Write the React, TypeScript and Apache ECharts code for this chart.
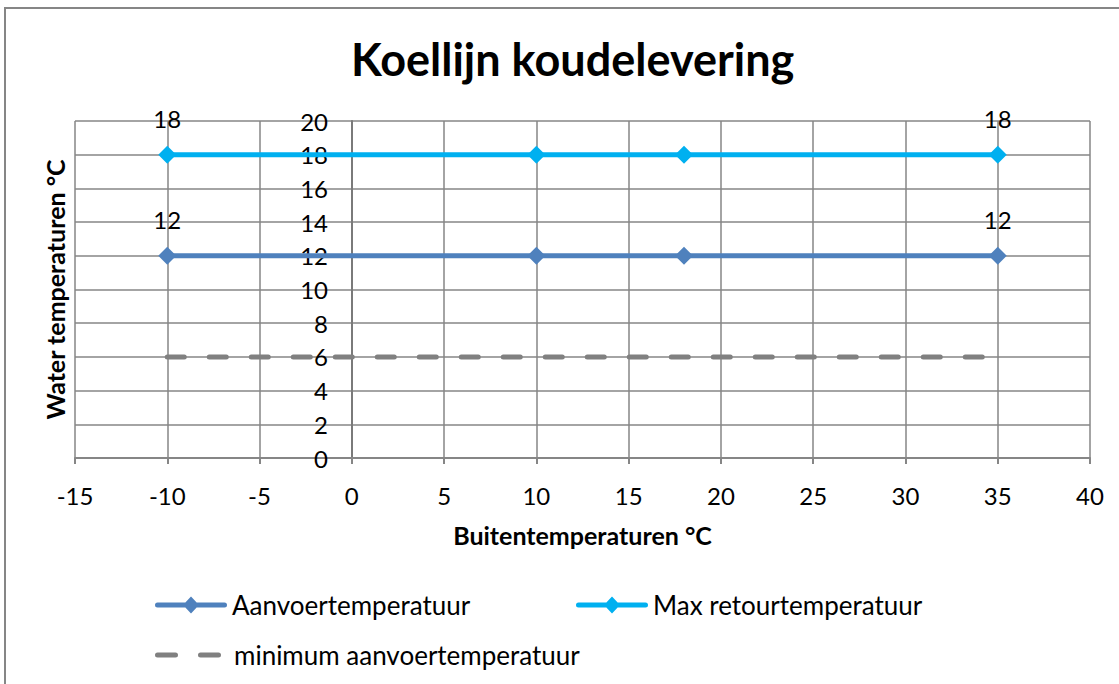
import React, { useEffect, useRef } from "react";
import * as echarts from "echarts";

const FONT = "Lato";
const titleText = "Koellijn koudelevering";
const xName = "Buitentemperaturen °C";
const yName = "Water temperaturen °C";
const seriesNames = ["Aanvoertemperatuur", "Max retourtemperatuur", "minimum aanvoertemperatuur"];
const aanvoerX = [-10, 10, 18, 35];
const aanvoerY = [12, 12, 12, 12];
const retourX = [-10, 10, 18, 35];
const retourY = [18, 18, 18, 18];
const minimumX = [-10, 35];
const minimumY = [6, 6];
const labelledX = [-10, 35];

function pts(xs: number[], ys: number[], labelled: boolean) {
  return xs.map((x, i) => ({
    value: [x, ys[i]],
    label: { show: labelled && labelledX.includes(x) },
  }));
}

const dashIcon =
  "path://M2.5,0H20.5A2.5,2.5 0 0 1 20.5,5H2.5A2.5,2.5 0 0 1 2.5,0Z M45.5,0H63.5A2.5,2.5 0 0 1 63.5,5H45.5A2.5,2.5 0 0 1 45.5,0Z";
const lineDiamondIcon =
  "path://M2.5,7H69.5A2.5,2.5 0 0 1 69.5,12H2.5A2.5,2.5 0 0 1 2.5,7Z M36,1L44,9.5L36,18L28,9.5Z";

export default function App() {
  const ref = useRef<HTMLDivElement>(null);
  useEffect(() => {
    const chart = echarts.init(ref.current!, null, { renderer: "svg" });
    const grey = "#868686";
    const labelCommon = {
      position: "top",
      distance: 15,
      fontFamily: FONT,
      fontSize: 24,
      color: "#000",
    };
    const legendText = { fontFamily: FONT, fontSize: 26, color: "#000" };
    chart.setOption({
      animation: false,
      backgroundColor: "#fff",
      graphic: [
        {
          type: "rect",
          shape: { x: 5, y: 8, width: 1200, height: 800 },
          style: { fill: "none", stroke: grey, lineWidth: 2 },
          silent: true,
        },
      ],
      title: {
        text: titleText,
        left: 346,
        top: 31,
        textStyle: { fontFamily: FONT, fontSize: 45, fontWeight: "bold", color: "#000" },
      },
      grid: {
        left: 75,
        right: 29,
        top: 121,
        bottom: 226,
        containLabel: false,
        outerBoundsMode: "none",
      },
      xAxis: {
        type: "value",
        min: -15,
        max: 40,
        interval: 5,
        name: xName,
        nameLocation: "middle",
        nameGap: 64,
        nameTextStyle: { fontFamily: FONT, fontSize: 25, fontWeight: "bold", color: "#000" },
        axisLine: { show: true, onZero: false, lineStyle: { color: grey, width: 2 } },
        axisTick: { show: true, length: 6, lineStyle: { color: grey, width: 2 } },
        axisLabel: { fontFamily: FONT, fontSize: 24, color: "#000", margin: 25 },
        splitLine: { show: true, lineStyle: { color: grey, width: 1.5 } },
      },
      yAxis: {
        type: "value",
        min: 0,
        max: 20,
        interval: 2,
        position: "left",
        offset: -277,
        name: yName,
        nameLocation: "middle",
        nameGap: 285,
        nameRotate: 90,
        nameTextStyle: { fontFamily: FONT, fontSize: 25, fontWeight: "bold", color: "#000" },
        axisLine: {
          show: true,
          onZero: false,
          lineStyle: { color: "#7a7a7a", width: 2 },
        },
        axisTick: { show: false },
        axisLabel: { fontFamily: FONT, fontSize: 24, color: "#000", margin: 24 },
        splitLine: { show: true, lineStyle: { color: grey, width: 1.5 } },
      },
      legend: [
        {
          data: [{ name: seriesNames[0], icon: lineDiamondIcon }],
          left: 150,
          top: 587,
          itemWidth: 72,
          itemHeight: 19,
          textStyle: legendText,
        },
        {
          data: [{ name: seriesNames[1], icon: lineDiamondIcon }],
          left: 571,
          top: 587,
          itemWidth: 72,
          itemHeight: 19,
          textStyle: legendText,
        },
        {
          data: [{ name: seriesNames[2], icon: dashIcon }],
          left: 150,
          top: 637,
          itemWidth: 66,
          itemHeight: 5,
          textStyle: { ...legendText, padding: [0, 0, 0, 8] },
        },
      ],
      series: [
        {
          name: seriesNames[0],
          type: "line",
          data: pts(aanvoerX, aanvoerY, true),
          symbol: "diamond",
          symbolSize: 18,
          color: "#4F81BD",
          lineStyle: { width: 5, color: "#4F81BD" },
          itemStyle: { color: "#4F81BD" },
          label: labelCommon,
          z: 4,
        },
        {
          name: seriesNames[1],
          type: "line",
          data: pts(retourX, retourY, true),
          symbol: "diamond",
          symbolSize: 18,
          color: "#00B0F0",
          lineStyle: { width: 5, color: "#00B0F0" },
          itemStyle: { color: "#00B0F0" },
          label: labelCommon,
          z: 4,
        },
        {
          name: seriesNames[2],
          type: "line",
          data: pts(minimumX, minimumY, false),
          symbol: "none",
          color: "#808080",
          lineStyle: { width: 5, color: "#808080", type: [17, 25], cap: "round" },
          itemStyle: { color: "#808080" },
          z: 3,
        },
      ],
    });
    return () => chart.dispose();
  }, []);
  return (
    <div
      ref={ref}
      style={{ position: "fixed", left: 0, top: 0, width: 1119, height: 684 }}
    />
  );
}
